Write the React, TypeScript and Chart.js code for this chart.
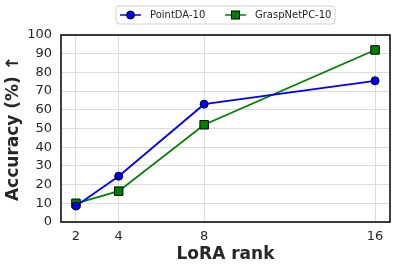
import React, { useEffect, useRef } from "react";
import { Chart, registerables } from "chart.js";

Chart.register(...registerables);

const ranks = [2, 4, 8, 16];
const pointDA = [8.5, 24.5, 63, 75.5];
const graspNet = [10, 16.5, 52, 92];
const seriesNames = ["PointDA-10", "GraspNetPC-10"];
const yTicks = [0, 10, 20, 30, 40, 50, 60, 70, 80, 90, 100];

const FONT = "'DejaVu Sans', sans-serif";
const BLUE = "#0000ff";
const GREEN = "#008000";

const framePlugin = {
  id: "frame",
  afterDraw(chart: any) {
    const { ctx, chartArea } = chart;
    ctx.save();
    ctx.strokeStyle = "#000";
    ctx.lineWidth = 1.5;
    ctx.strokeRect(chartArea.left, chartArea.top, chartArea.right - chartArea.left, chartArea.bottom - chartArea.top);
    ctx.restore();
  },
};

const legendPlugin = {
  id: "mplLegend",
  afterDraw(chart: any) {
    const ctx = chart.ctx;
    ctx.save();
    const bx = 116, by = 6, bw = 219, bh = 18, r = 3;
    ctx.fillStyle = "rgba(255,255,255,0.9)";
    ctx.strokeStyle = "#d0d0d0";
    ctx.lineWidth = 1;
    ctx.beginPath();
    ctx.moveTo(bx + r, by);
    ctx.lineTo(bx + bw - r, by);
    ctx.quadraticCurveTo(bx + bw, by, bx + bw, by + r);
    ctx.lineTo(bx + bw, by + bh - r);
    ctx.quadraticCurveTo(bx + bw, by + bh, bx + bw - r, by + bh);
    ctx.lineTo(bx + r, by + bh);
    ctx.quadraticCurveTo(bx, by + bh, bx, by + bh - r);
    ctx.lineTo(bx, by + r);
    ctx.quadraticCurveTo(bx, by, bx + r, by);
    ctx.closePath();
    ctx.fill();
    ctx.stroke();
    const cy = by + bh / 2;
    const entries = [
      { x: 120, color: BLUE, style: "circle", label: seriesNames[0] },
      { x: 225, color: GREEN, style: "rect", label: seriesNames[1] },
    ];
    for (const e of entries) {
      ctx.strokeStyle = e.color;
      ctx.lineWidth = 1.5;
      ctx.beginPath();
      ctx.moveTo(e.x, cy);
      ctx.lineTo(e.x + 21, cy);
      ctx.stroke();
      ctx.fillStyle = e.color;
      ctx.strokeStyle = "#000";
      ctx.lineWidth = 1;
      const mx = e.x + 10.5;
      if (e.style === "circle") {
        ctx.beginPath();
        ctx.arc(mx, cy, 4, 0, Math.PI * 2);
        ctx.fill();
        ctx.stroke();
      } else {
        ctx.fillRect(mx - 4, cy - 4, 8, 8);
        ctx.strokeRect(mx - 4, cy - 4, 8, 8);
      }
      ctx.fillStyle = "#262626";
      ctx.font = `10px ${FONT}`;
      ctx.textBaseline = "middle";
      ctx.textAlign = "left";
      ctx.fillText(e.label, e.x + 30, cy + 0.5);
    }
    ctx.restore();
  },
};

export default function App() {
  const ref = useRef<HTMLCanvasElement | null>(null);
  useEffect(() => {
    if (!ref.current) return;
    const chart = new Chart(ref.current, {
      type: "line",
      data: {
        datasets: [
          {
            label: seriesNames[0],
            data: ranks.map((r, i) => ({ x: r, y: pointDA[i] })),
            borderColor: BLUE,
            backgroundColor: BLUE,
            pointBackgroundColor: BLUE,
            pointBorderColor: "#000",
            pointBorderWidth: 1,
            pointStyle: "circle",
            pointRadius: 4,
            borderWidth: 1.8,
          },
          {
            label: seriesNames[1],
            data: ranks.map((r, i) => ({ x: r, y: graspNet[i] })),
            borderColor: GREEN,
            backgroundColor: GREEN,
            pointBackgroundColor: GREEN,
            pointBorderColor: "#000",
            pointBorderWidth: 1,
            pointStyle: "rect",
            pointRadius: 6,
            borderWidth: 1.8,
          },
        ],
      },
      options: {
        animation: false,
        responsive: false,
        maintainAspectRatio: false,
        layout: { padding: { top: 35, right: 7, left: 0, bottom: 0 } },
        plugins: { legend: { display: false }, tooltip: { enabled: false } },
        scales: {
          x: {
            type: "linear",
            min: 1.3,
            max: 16.7,
            afterBuildTicks: (scale: any) => {
              scale.ticks = ranks.map((v) => ({ value: v }));
            },
            afterFit: (scale: any) => {
              scale.height = 47;
            },
            grid: { color: "#dcdcdc", lineWidth: 1, drawTicks: false },
            border: { display: false },
            ticks: {
              font: { family: FONT, size: 13 },
              color: "#262626",
              padding: 7,
              maxRotation: 0,
              autoSkip: false,
            },
            title: {
              display: true,
              text: "LoRA rank",
              font: { family: FONT, size: 17, weight: "bold" },
              color: "#262626",
              padding: { top: 0, bottom: 4 },
            },
          },
          y: {
            type: "linear",
            min: 0,
            max: 100,
            afterBuildTicks: (scale: any) => {
              scale.ticks = yTicks.map((v) => ({ value: v }));
            },
            afterFit: (scale: any) => {
              scale.width = 61;
            },
            grid: { color: "#dcdcdc", lineWidth: 1, drawTicks: false },
            border: { display: false },
            ticks: {
              font: { family: FONT, size: 13 },
              color: "#262626",
              padding: 9,
              autoSkip: false,
            },
            title: {
              display: true,
              text: "Accuracy (%) \u2191",
              font: { family: FONT, size: 17, weight: "bold" },
              color: "#262626",
              padding: { top: 3, bottom: 0 },
            },
          },
        },
      },
      plugins: [framePlugin, legendPlugin],
    } as any);
    return () => chart.destroy();
  }, []);
  return (
    <div style={{ position: "fixed", left: 0, top: 0, width: 397, height: 269, background: "#fff" }}>
      <canvas ref={ref} width={397} height={269} style={{ width: 397, height: 269 }} />
    </div>
  );
}
